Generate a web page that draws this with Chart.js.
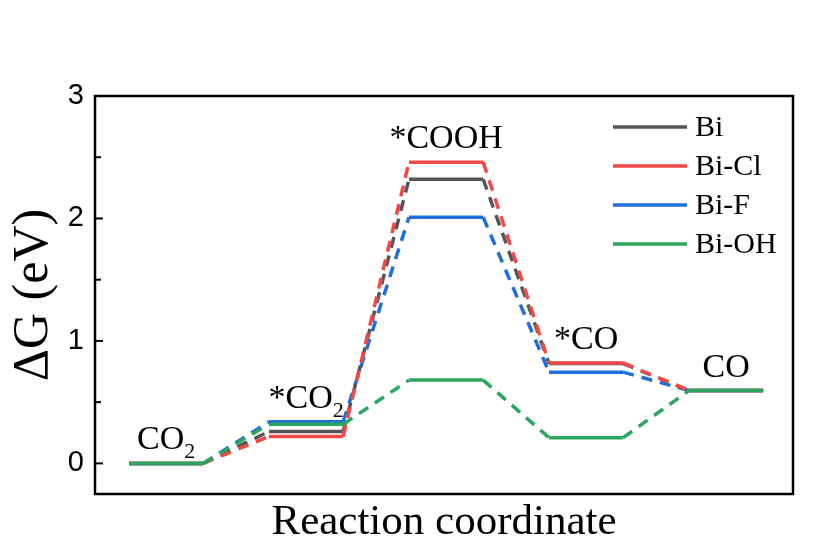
<!DOCTYPE html>
<html lang="en">
<head>
	<meta charset="UTF-8">
	<title>Free energy diagram</title>
	<script src="https://cdn.jsdelivr.net/npm/chart.js"></script>
	<style>
		body { margin: 0; background: #fff; }
	</style>
</head>
<body>
	<canvas id="energyChart" width="838" height="553"></canvas>
<script>
	// reaction steps (main text + subscript)
	const steps = [['CO', '2'], ['*CO', '2'], ['*COOH', ''], ['*CO', ''], ['CO', '']];
	const seriesNames = ['Bi', 'Bi-Cl', 'Bi-F', 'Bi-OH'];
	const bi = [0, 0.26, 2.32, 0.815, 0.595];
	const biCl = [0, 0.22, 2.46, 0.82, 0.595];
	const biF = [0, 0.34, 2.01, 0.745, 0.595];
	const biOH = [0, 0.32, 0.68, 0.21, 0.595];
	const yTicks = [0, 1, 2, 3];

	const colors = ['#555555', '#f24848', '#1f6ee0', '#2ca55e'];
	const levelWidth = 0.53;

	// each step is a flat level from x=i to x=i+levelWidth, joined by dashed connectors
	function levelPoints(values) {
		const pts = [];
		values.forEach((v, i) => {
			pts.push({ x: i, y: v });
			pts.push({ x: i + levelWidth, y: v });
		});
		return pts;
	}

	const allSeries = [bi, biCl, biF, biOH];
	const drawOrder = [2, 1, 3, 0]; // Bi-OH on top, red over black

	const datasets = allSeries.map((vals, k) => ({
		label: seriesNames[k],
		data: levelPoints(vals),
		borderColor: colors[k],
		backgroundColor: colors[k],
		borderWidth: 3.5,
		pointRadius: 0,
		tension: 0,
		order: drawOrder[k],
		segment: {
			borderDash: ctx => ctx.p0DataIndex % 2 ? [11, 8] : undefined
		}
	}));

	const framePlugin = {
		id: 'frame',
		afterDraw(chart) {
			const { ctx, chartArea } = chart;
			const y = chart.scales.y;
			ctx.save();
			ctx.strokeStyle = '#000';
			ctx.lineWidth = 2.5;
			ctx.strokeRect(chartArea.left, chartArea.top, chartArea.right - chartArea.left, chartArea.bottom - chartArea.top);
			// inward ticks, minor ones halfway between majors
			ctx.lineWidth = 2;
			yTicks.forEach((v, i) => {
				const py = y.getPixelForValue(v);
				ctx.beginPath();
				ctx.moveTo(chartArea.left, py);
				ctx.lineTo(chartArea.left + 8, py);
				ctx.stroke();
				if (i < yTicks.length - 1) {
					const my = y.getPixelForValue((v + yTicks[i + 1]) / 2);
					ctx.beginPath();
					ctx.moveTo(chartArea.left, my);
					ctx.lineTo(chartArea.left + 6, my);
					ctx.stroke();
				}
			});
			ctx.restore();
		}
	};

	const labelsPlugin = {
		id: 'stepLabels',
		afterDatasetsDraw(chart) {
			const { ctx } = chart;
			const xs = chart.scales.x, ys = chart.scales.y;
			ctx.save();
			ctx.fillStyle = '#000';
			ctx.textBaseline = 'alphabetic';
			steps.forEach((s, i) => {
				const top = Math.max(...allSeries.map(a => a[i]));
				const cx = xs.getPixelForValue(i + levelWidth / 2);
				const base = ys.getPixelForValue(top) - 14;
				ctx.font = '34px "Liberation Serif"';
				const w1 = ctx.measureText(s[0]).width;
				ctx.font = '22px "Liberation Serif"';
				const w2 = s[1] ? ctx.measureText(s[1]).width : 0;
				const x0 = cx - (w1 + w2) / 2;
				ctx.font = '34px "Liberation Serif"';
				ctx.textAlign = 'left';
				ctx.fillText(s[0], x0, base);
				if (s[1]) {
					ctx.font = '22px "Liberation Serif"';
					ctx.fillText(s[1], x0 + w1, base + 9);
				}
			});

			// legend, top right inside the frame
			const area = chart.chartArea;
			ctx.font = '30px "Liberation Serif"';
			ctx.textBaseline = 'middle';
			seriesNames.forEach((name, k) => {
				const ly = area.top + 31 + k * 39;
				ctx.strokeStyle = colors[k];
				ctx.lineWidth = 3.5;
				ctx.beginPath();
				ctx.moveTo(area.right - 180, ly);
				ctx.lineTo(area.right - 106, ly);
				ctx.stroke();
				ctx.fillText(name, area.right - 98, ly + 1);
			});
			ctx.restore();
		}
	};

	const ctx = document.getElementById('energyChart').getContext('2d');
	new Chart(ctx, {
		type: 'line',
		data: { datasets },
		options: {
			responsive: false,
			animation: false,
			layout: { padding: { top: 96, right: 45, left: 0, bottom: 0 } },
			plugins: {
				legend: { display: false },
				tooltip: { enabled: false }
			},
			scales: {
				x: {
					type: 'linear',
					min: -0.243,
					max: 4.743,
					grid: { display: false },
					border: { display: false },
					ticks: { display: false },
					title: {
						display: true,
						text: 'Reaction coordinate',
						color: '#000',
						font: { family: 'Liberation Serif', size: 43 },
						padding: { top: 0, bottom: 4 }
					},
					afterFit(scale) { scale.height = 59; }
				},
				y: {
					min: -0.25,
					max: 3,
					grid: { display: false, drawTicks: false },
					border: { display: false },
					afterBuildTicks(scale) { scale.ticks = yTicks.map(v => ({ value: v })); },
					ticks: {
						padding: 11,
						color: '#000',
						font: { family: 'Liberation Sans', size: 29 }
					},
					title: {
						display: true,
						text: 'ΔG (eV)',
						color: '#000',
						font: { family: 'Liberation Serif', size: 50 },
						padding: { top: 4, bottom: 0 }
					},
					afterFit(scale) { scale.width = 95; }
				}
			}
		},
		plugins: [framePlugin, labelsPlugin]
	});
</script>
</body>
</html>
